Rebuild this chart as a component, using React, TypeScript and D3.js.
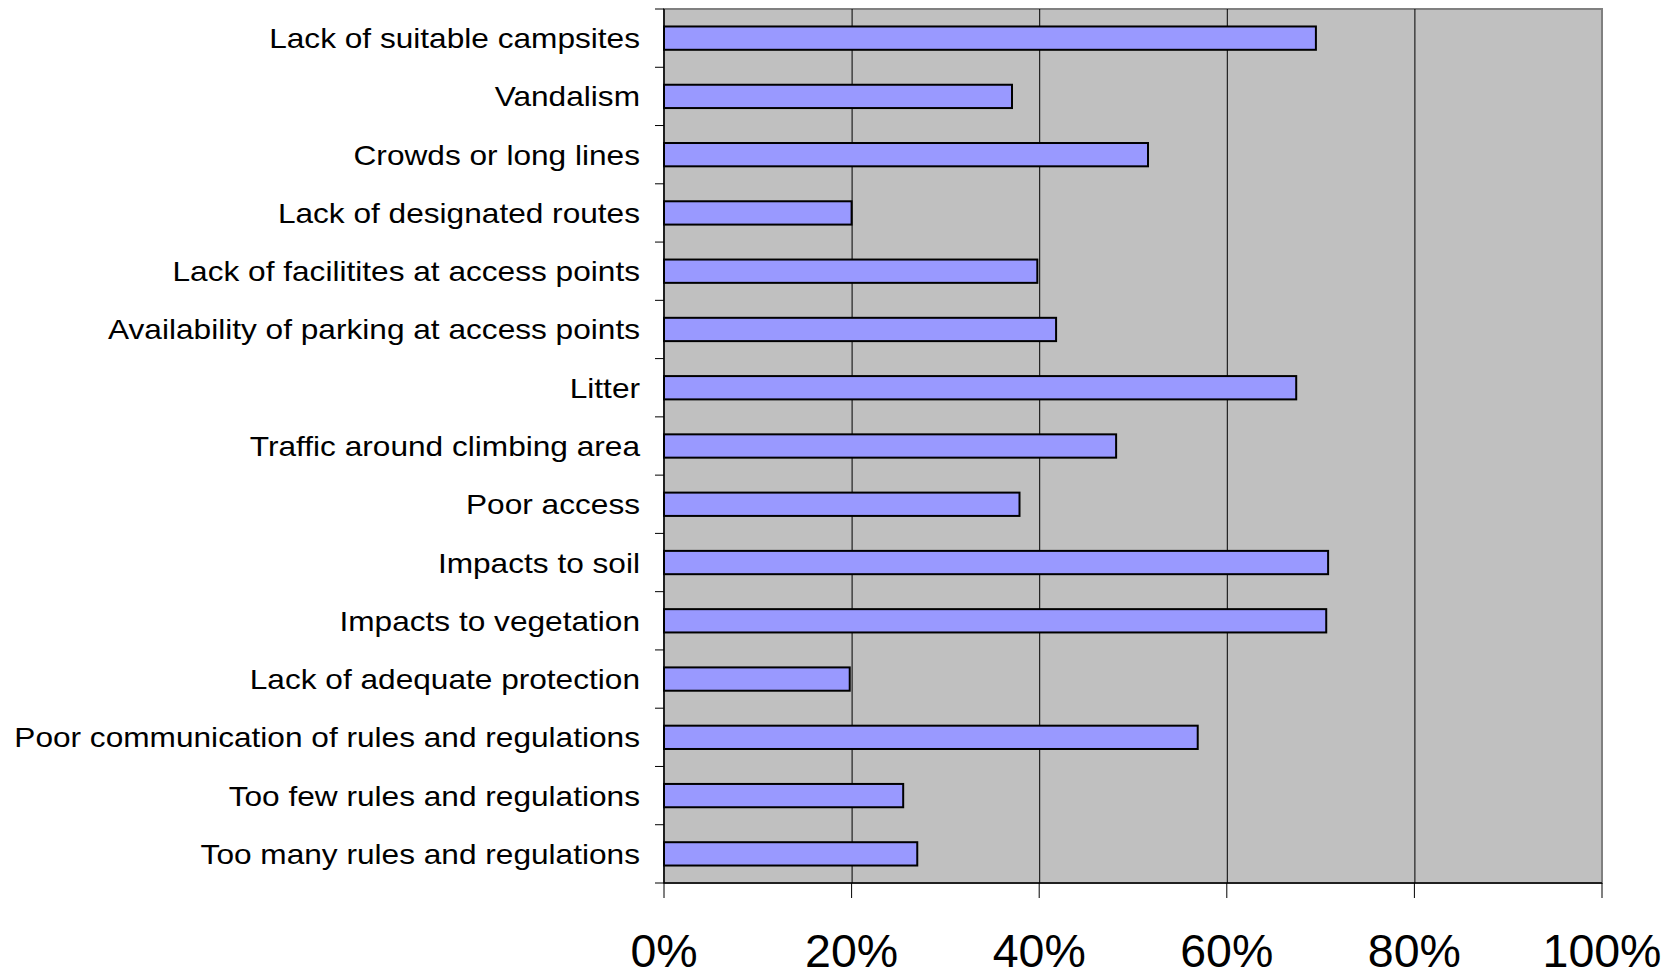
import { useEffect, useRef } from 'react';
import * as d3 from 'd3';

const categories = [
  'Lack of suitable campsites',
  'Vandalism',
  'Crowds or long lines',
  'Lack of designated routes',
  'Lack of facilitites at access points',
  'Availability of parking at access points',
  'Litter',
  'Traffic around climbing area',
  'Poor access',
  'Impacts to soil',
  'Impacts to vegetation',
  'Lack of adequate protection',
  'Poor communication of rules and regulations',
  'Too few rules and regulations',
  'Too many rules and regulations',
];

const values = [69.5, 37.1, 51.6, 20.0, 39.8, 41.8, 67.4, 48.2, 37.9, 70.8, 70.6, 19.8, 56.9, 25.5, 27.0];

const xTicks = [0, 20, 40, 60, 80, 100];

const WIDTH = 1673;
const HEIGHT = 973;

export default function App() {
  const svgRef = useRef<SVGSVGElement | null>(null);

  useEffect(() => {
    if (!svgRef.current) return;
    const svg = d3.select(svgRef.current);
    svg.selectAll('*').remove();

    const margin = { top: 9, right: 71, bottom: 90, left: 664 };
    const plotRight = WIDTH - margin.right;
    const plotBottom = HEIGHT - margin.bottom;

    const x = d3.scaleLinear().domain([0, 100]).range([margin.left, plotRight]);
    const y = d3.scaleBand<string>().domain(categories).range([margin.top, plotBottom]).paddingInner(0.6).paddingOuter(0.3);
    const yBand = d3.scaleBand<string>().domain(categories).range([margin.top, plotBottom]);

    svg.append('rect').attr('width', WIDTH).attr('height', HEIGHT).attr('fill', '#ffffff');

    // plot area
    svg
      .append('rect')
      .attr('x', margin.left)
      .attr('y', margin.top)
      .attr('width', plotRight - margin.left)
      .attr('height', plotBottom - margin.top)
      .attr('fill', '#c0c0c0')
      .attr('stroke', '#808080')
      .attr('stroke-width', 2);

    // gridlines
    svg
      .append('g')
      .selectAll('line')
      .data(xTicks.slice(1, -1))
      .enter()
      .append('line')
      .attr('x1', (d) => x(d) + 0.5)
      .attr('x2', (d) => x(d) + 0.5)
      .attr('y1', margin.top)
      .attr('y2', plotBottom)
      .attr('stroke', '#000000')
      .attr('stroke-width', 1);

    // bars
    svg
      .append('g')
      .selectAll('rect')
      .data(values)
      .enter()
      .append('rect')
      .attr('x', x(0))
      .attr('y', (_, i) => y(categories[i]) ?? 0)
      .attr('width', (d) => x(d) - x(0))
      .attr('height', y.bandwidth())
      .attr('fill', '#9999ff')
      .attr('stroke', '#000000')
      .attr('stroke-width', 2);

    // y axis
    svg
      .append('line')
      .attr('x1', margin.left)
      .attr('x2', margin.left)
      .attr('y1', margin.top)
      .attr('y2', plotBottom)
      .attr('stroke', '#000000')
      .attr('stroke-width', 1.5);

    const bounds = categories.map((c) => yBand(c) ?? 0).concat([plotBottom]);
    svg
      .append('g')
      .selectAll('line')
      .data(bounds)
      .enter()
      .append('line')
      .attr('x1', margin.left - 9)
      .attr('x2', margin.left)
      .attr('y1', (d) => d)
      .attr('y2', (d) => d)
      .attr('stroke', '#000000')
      .attr('stroke-width', 1);

    // category labels, slightly wide like the original rendering
    svg
      .append('g')
      .selectAll('text')
      .data(categories)
      .enter()
      .append('text')
      .attr('transform', (d) => `translate(${margin.left - 24},${(yBand(d) ?? 0) + yBand.bandwidth() / 2}) scale(1.11,1)`)
      .attr('dy', '0.35em')
      .attr('text-anchor', 'end')
      .attr('font-family', 'Liberation Sans, Arial, sans-serif')
      .attr('font-size', 28.5)
      .attr('fill', '#000000')
      .text((d) => d);

    // x axis
    svg
      .append('line')
      .attr('x1', margin.left)
      .attr('x2', plotRight)
      .attr('y1', plotBottom)
      .attr('y2', plotBottom)
      .attr('stroke', '#000000')
      .attr('stroke-width', 1.5);

    svg
      .append('g')
      .selectAll('line')
      .data(xTicks)
      .enter()
      .append('line')
      .attr('x1', (d) => x(d))
      .attr('x2', (d) => x(d))
      .attr('y1', plotBottom)
      .attr('y2', plotBottom + 15)
      .attr('stroke', '#000000')
      .attr('stroke-width', 1);

    svg
      .append('g')
      .selectAll('text')
      .data(xTicks)
      .enter()
      .append('text')
      .attr('x', (d) => x(d))
      .attr('y', plotBottom + 84)
      .attr('text-anchor', 'middle')
      .attr('font-family', 'Liberation Sans, Arial, sans-serif')
      .attr('font-size', 46.5)
      .attr('fill', '#000000')
      .text((d) => `${d}%`);
  }, []);

  return (
    <svg
      ref={svgRef}
      width={WIDTH}
      height={HEIGHT}
      viewBox={`0 0 ${WIDTH} ${HEIGHT}`}
      style={{ position: 'absolute', left: 0, top: 0, display: 'block' }}
    />
  );
}
